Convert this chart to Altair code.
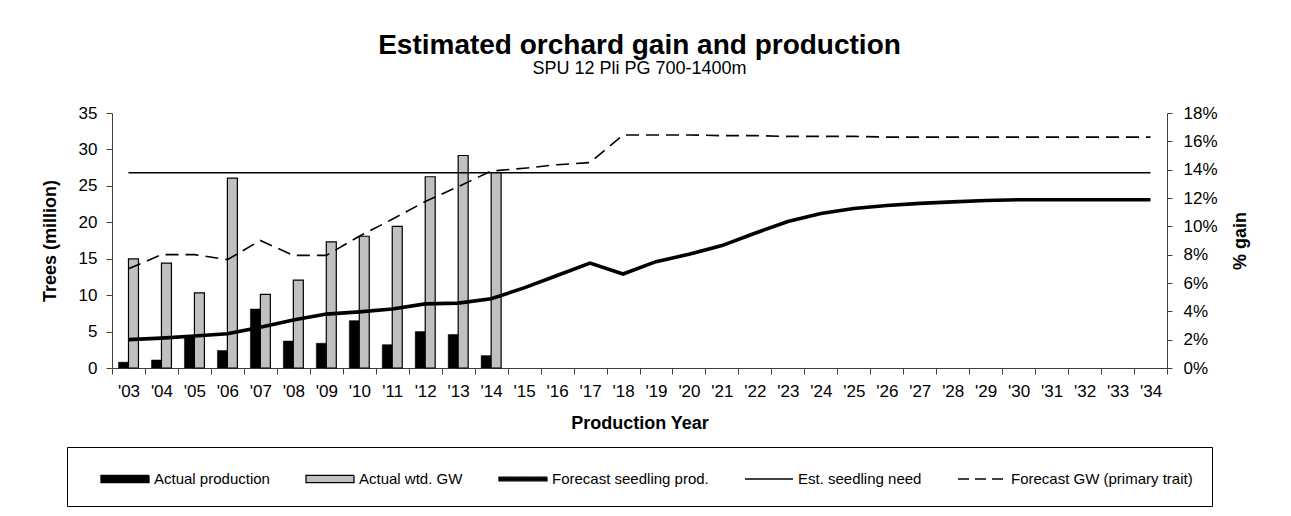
import altair as alt
import pandas as pd

years = ["'03", "'04", "'05", "'06", "'07", "'08", "'09", "'10", "'11", "'12", "'13", "'14",
         "'15", "'16", "'17", "'18", "'19", "'20", "'21", "'22", "'23", "'24", "'25", "'26",
         "'27", "'28", "'29", "'30", "'31", "'32", "'33", "'34"]
actual_years = ["'03", "'04", "'05", "'06", "'07", "'08", "'09", "'10", "'11", "'12", "'13", "'14"]

# Trees (million)
actual_production = [0.8, 1.1, 4.3, 2.4, 8.1, 3.7, 3.4, 6.5, 3.2, 5.0, 4.6, 1.7]
# % gain
actual_gw = [7.7, 7.4, 5.3, 13.4, 5.2, 6.2, 8.9, 9.3, 10.0, 13.5, 15.0, 13.8]
# Trees (million)
forecast_prod = [3.9, 4.1, 4.4, 4.7, 5.6, 6.6, 7.4, 7.7, 8.1, 8.8, 8.9, 9.5,
                 11.0, 12.7, 14.4, 12.9, 14.6, 15.6, 16.8, 18.5, 20.1, 21.2, 21.9, 22.3,
                 22.6, 22.8, 23.0, 23.1, 23.1, 23.1, 23.1, 23.1]
seedling_need = [26.8, 26.8, 26.8, 26.8, 26.8, 26.8, 26.8, 26.8, 26.8, 26.8, 26.8, 26.8,
                 26.8, 26.8, 26.8, 26.8, 26.8, 26.8, 26.8, 26.8, 26.8, 26.8, 26.8, 26.8,
                 26.8, 26.8, 26.8, 26.8, 26.8, 26.8, 26.8, 26.8]
# % gain
forecast_gw = [7.0, 8.0, 8.0, 7.65, 9.0, 7.95, 7.95, 9.3, 10.5, 11.75, 12.8, 13.9,
               14.1, 14.35, 14.5, 16.45, 16.45, 16.45, 16.4, 16.4, 16.35, 16.35, 16.35, 16.3,
               16.3, 16.3, 16.3, 16.3, 16.3, 16.3, 16.3, 16.3]

legend_labels = ["Actual production", "Actual wtd. GW", "Forecast seedling prod.",
                 "Est. seedling need", "Forecast GW (primary trait)"]
left_ticks = [0, 5, 10, 15, 20, 25, 30, 35]
right_ticks = [0, 2, 4, 6, 8, 10, 12, 14, 16, 18]

FONT = "Liberation Sans"
AX = "#404040"

bars_prod = pd.DataFrame({"year": actual_years, "value": actual_production, "series": legend_labels[0]})
bars_gw = pd.DataFrame({"year": actual_years, "value": actual_gw, "series": legend_labels[1]})
lines = pd.DataFrame({"year": years, "prod": forecast_prod, "need": seedling_need,
                      "gw": forecast_gw, "series": legend_labels[2]})

x_enc = alt.X(
    "year:N", sort=years,
    scale=alt.Scale(domain=years, paddingInner=0, paddingOuter=0),
    axis=alt.Axis(title="Production Year", labelAngle=0, tickBand="extent", tickSize=6,
                  labelPadding=9, labelFontSize=17, titleFontSize=18, titleFontWeight="bold",
                  titlePadding=15, domainColor=AX, tickColor=AX, labelColor="black",
                  titleColor="black", grid=False, labelFont=FONT, titleFont=FONT),
)
xoff = alt.XOffset("series:N", scale=alt.Scale(domain=legend_labels[:2], paddingInner=0, paddingOuter=0.65))

left_scale = alt.Scale(domain=[0, 35], nice=False, zero=True)
right_scale = alt.Scale(domain=[0, 18], nice=False, zero=True)

left_axis = alt.Axis(orient="left", title="Trees (million)", values=left_ticks, tickSize=6,
                     labelPadding=9, labelFontSize=17, titleFontSize=18, titleFontWeight="bold",
                     titlePadding=19, domainColor=AX, tickColor=AX, labelColor="black",
                     titleColor="black", grid=False, labelFont=FONT, titleFont=FONT)
right_axis = alt.Axis(orient="right", title="% gain", values=right_ticks,
                      labelExpr="datum.value + '%'", tickSize=5, labelPadding=11,
                      labelFontSize=17, titleFontSize=18, titleFontWeight="bold",
                      titleAngle=270, titleBaseline="top", titlePadding=14,
                      domainColor=AX, tickColor=AX, labelColor="black", titleColor="black",
                      grid=False, labelFont=FONT, titleFont=FONT)

layer_prod = alt.Chart(bars_prod).mark_bar(fill="black", stroke="black", strokeWidth=0.5).encode(
    x=x_enc, xOffset=xoff, y=alt.Y("value:Q", scale=left_scale, axis=left_axis))
layer_gw = alt.Chart(bars_gw).mark_bar(fill="#c0c0c0", stroke="black", strokeWidth=1.2).encode(
    x=x_enc, xOffset=xoff, y=alt.Y("value:Q", scale=right_scale, axis=right_axis))
layer_need = alt.Chart(lines).mark_line(color="black", strokeWidth=1.5).encode(
    x=x_enc, y=alt.Y("need:Q", scale=left_scale, axis=None))
layer_fprod = alt.Chart(lines).mark_line(color="black", strokeWidth=3.6).encode(
    x=x_enc, y=alt.Y("prod:Q", scale=left_scale, axis=None))
layer_fgw = alt.Chart(lines).mark_line(color="black", strokeWidth=1.6, strokeDash=[13, 7]).encode(
    x=x_enc, y=alt.Y("gw:Q", scale=right_scale, axis=None))

rect_path = "M-2,-0.3H2V0.3H-2Z"
thick_path = "M-2,-0.15H2V0.15H-2Z"
line_path = "M-2,0H2"
leg = alt.Legend(title=None, orient="none", legendX=-45, legendY=334, direction="horizontal",
                 strokeColor="black", fillColor="white", padding=19, columnPadding=21,
                 labelFontSize=15, labelFont=FONT, labelColor="black", symbolSize=576,
                 symbolOffset=26, labelOffset=16, labelLimit=0, symbolOpacity=1,
                 symbolLimit=0, symbolStrokeWidth=1.3)
layer_legend = alt.Chart(lines).transform_filter("false").mark_point(filled=True, opacity=1).encode(
    color=alt.Color("series:N", scale=alt.Scale(domain=legend_labels,
                    range=["black", "#c0c0c0", "black", "black", "black"]), legend=leg),
    stroke=alt.Stroke("series:N", scale=alt.Scale(domain=legend_labels,
                      range=["black", "black", "black", "black", "black"]), legend=leg),
    shape=alt.Shape("series:N", scale=alt.Scale(domain=legend_labels,
                    range=[rect_path, rect_path, thick_path, line_path, line_path]), legend=leg),
    strokeDash=alt.StrokeDash("series:N", scale=alt.Scale(domain=legend_labels,
                              range=[[1, 0], [1, 0], [1, 0], [1, 0], [11, 6]]), legend=leg),
)

chart = alt.layer(layer_prod, layer_gw, layer_need, layer_fprod, layer_fgw, layer_legend).resolve_scale(
    y="independent"
).properties(
    width=1055, height=255,
    padding={"left": 104, "top": 105, "right": 110, "bottom": 146},
    autosize=alt.AutoSizeParams(type="none"),
    title=alt.TitleParams(text="Estimated orchard gain and production",
                          subtitle="SPU 12 Pli PG 700-1400m",
                          fontSize=28, fontWeight="bold", font=FONT, color="black",
                          subtitleFontSize=18, subtitleFont=FONT, subtitleColor="black",
                          subtitlePadding=0, anchor="middle", frame="group", offset=26),
).configure(font=FONT).configure_view(stroke=None)

chart.save("out.html", embed_options={"renderer": "svg", "actions": False})
